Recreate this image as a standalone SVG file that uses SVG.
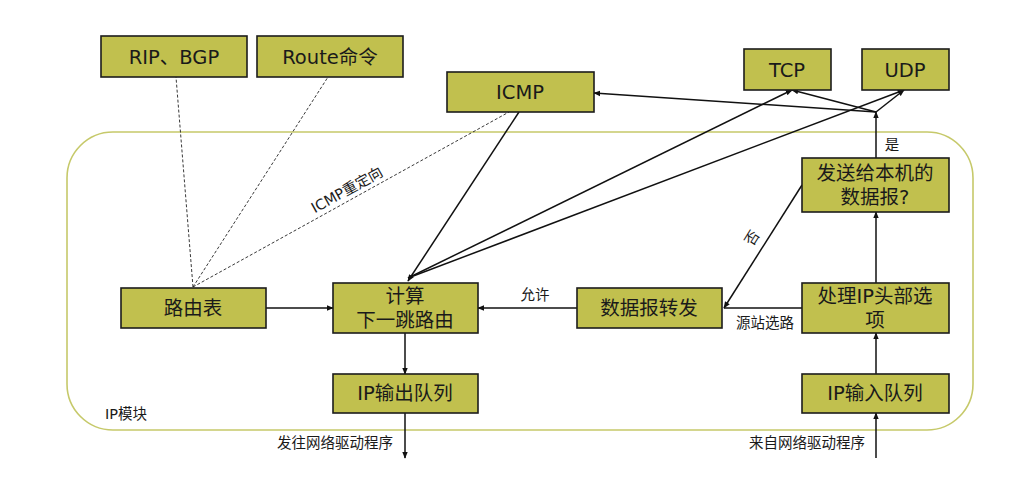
<svg xmlns="http://www.w3.org/2000/svg" width="1024" height="477" viewBox="0 0 1024 477">
<defs>
<marker id="arr" viewBox="0 0 10 10" refX="9" refY="5" markerWidth="7" markerHeight="7" orient="auto" markerUnits="userSpaceOnUse">
<path d="M0,1 L10,5 L0,9 z" fill="#111"/>
</marker>
</defs>
<style>
.box{fill:#c1c04e;stroke:#1c1c1c;stroke-width:1.6}
.t{font-family:"DejaVu Sans","Noto Sans CJK SC",sans-serif;font-size:19.5px;fill:#1a1a1a;text-anchor:middle;dominant-baseline:central}
.s{font-family:"DejaVu Sans","Noto Sans CJK SC",sans-serif;font-size:14.5px;fill:#1a1a1a;text-anchor:middle;dominant-baseline:central}
.ln{stroke:#111;stroke-width:1.5;fill:none}
.dl{stroke:#222;stroke-width:0.9;fill:none;stroke-dasharray:3 2}
</style>
<rect width="1024" height="477" fill="#fff"/>
<g id="ipmodule">
<rect x="67" y="132" width="906" height="298" rx="46" ry="46" fill="none" stroke="#c6c96a" stroke-width="1.6"/>
<text class="s" x="126" y="414">IP模块</text>
</g>
<g id="connectors">
<line class="dl" x1="193" y1="287" x2="176" y2="77"/>
<line class="dl" x1="193" y1="287" x2="328" y2="77"/>
<line class="dl" x1="193" y1="287" x2="509" y2="112"/>
<line class="ln" x1="519" y1="112" x2="408" y2="281" marker-end="url(#arr)"/>
<line class="ln" x1="408" y1="278" x2="792" y2="90" marker-end="url(#arr)"/>
<line class="ln" x1="408" y1="278" x2="904" y2="90" marker-end="url(#arr)"/>
<line class="ln" x1="876" y1="158" x2="876" y2="112" marker-end="url(#arr)"/>
<line class="ln" x1="876" y1="112" x2="792" y2="90" marker-end="url(#arr)"/>
<line class="ln" x1="876" y1="112" x2="904" y2="90" marker-end="url(#arr)"/>
<line class="ln" x1="876" y1="112" x2="594" y2="93" marker-end="url(#arr)"/>
<line class="ln" x1="266" y1="308" x2="333" y2="308" marker-end="url(#arr)"/>
<line class="ln" x1="577" y1="308" x2="478" y2="308" marker-end="url(#arr)"/>
<line class="ln" x1="802" y1="308" x2="724" y2="308"/>
<line class="ln" x1="802" y1="185" x2="724" y2="308" marker-end="url(#arr)"/>
<line class="ln" x1="405" y1="333" x2="405" y2="374" marker-end="url(#arr)"/>
<line class="ln" x1="405" y1="413" x2="405" y2="458" marker-end="url(#arr)"/>
<line class="ln" x1="876" y1="374" x2="876" y2="333" marker-end="url(#arr)"/>
<line class="ln" x1="876" y1="283" x2="876" y2="212" marker-end="url(#arr)"/>
<line class="ln" x1="876" y1="458" x2="876" y2="413" marker-end="url(#arr)"/>
<text class="s" transform="translate(347,190) rotate(-29)">ICMP重定向</text>
<text class="s" x="535" y="295">允许</text>
<text class="s" x="765" y="323">源站选路</text>
<text class="s" transform="translate(752,238) rotate(-58)">否</text>
<text class="s" x="892" y="145">是</text>
<text class="s" x="335" y="443">发往网络驱动程序</text>
<text class="s" x="807" y="443">来自网络驱动程序</text>
</g>
<g id="rip"><rect class="box" x="101" y="36" width="146" height="41"/><text class="t" x="174" y="57">RIP、BGP</text></g>
<g id="route"><rect class="box" x="257" y="36" width="146" height="41"/><text class="t" x="330" y="57">Route命令</text></g>
<g id="icmp"><rect class="box" x="447" y="72" width="147" height="40"/><text class="t" x="520" y="92">ICMP</text></g>
<g id="tcp"><rect class="box" x="744" y="49" width="87" height="41"/><text class="t" x="787" y="70">TCP</text></g>
<g id="udp"><rect class="box" x="862" y="49" width="87" height="41"/><text class="t" x="905" y="70">UDP</text></g>
<g id="routetable"><rect class="box" x="121" y="288" width="145" height="40"/><text class="t" x="193" y="308">路由表</text></g>
<g id="nexthop"><rect class="box" x="333" y="283" width="145" height="50"/><text class="t" x="405" y="296">计算</text><text class="t" x="405" y="320">下一跳路由</text></g>
<g id="forward"><rect class="box" x="577" y="288" width="145" height="40"/><text class="t" x="649" y="308">数据报转发</text></g>
<g id="local"><rect class="box" x="802" y="158" width="147" height="54"/><text class="t" x="875" y="173">发送给本机的</text><text class="t" x="875" y="197">数据报?</text></g>
<g id="options"><rect class="box" x="802" y="283" width="147" height="50"/><text class="t" x="875" y="296">处理IP头部选</text><text class="t" x="875" y="320">项</text></g>
<g id="outq"><rect class="box" x="333" y="374" width="145" height="39"/><text class="t" x="405" y="393">IP输出队列</text></g>
<g id="inq"><rect class="box" x="802" y="374" width="147" height="39"/><text class="t" x="875" y="393">IP输入队列</text></g>
</svg>
